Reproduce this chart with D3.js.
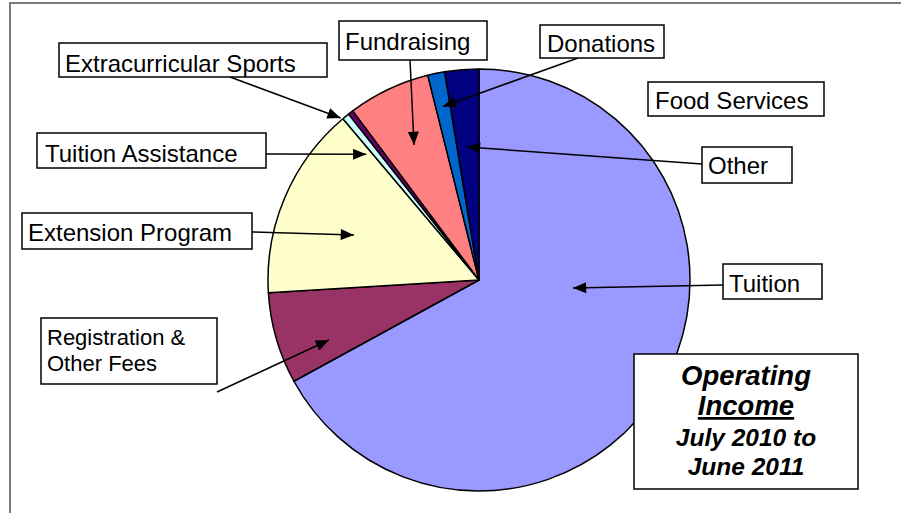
<!DOCTYPE html>
<html>
<head>
<meta charset="utf-8">
<script src="https://cdn.jsdelivr.net/npm/d3@7"></script>
<style>
  body { margin: 0; background: #fff; }
  text { font-family: "Liberation Sans", Arial, sans-serif; }
</style>
</head>
<body>
<div id="chart"></div>
<script>
// categories and their share of operating income (%), clockwise from 12 o'clock
const categories = ["Tuition", "Registration & Other Fees", "Extension Program", "Tuition Assistance",
    "Extracurricular Sports", "Fundraising", "Donations", "Food Services", "Other"];
const values = [67.0, 7.0, 14.8, 0.55, 0.4, 6.3, 1.3, 0, 2.6];
const colors = ["#9999ff", "#993366", "#ffffcc", "#ccffff", "#660066", "#ff8080", "#0066cc", "#ccccff", "#000080"];
const titleLines = ["Operating", "Income", "July 2010 to", "June 2011"];

const width = 901;
const height = 513;
const center = {x: 479, y: 280};
const radius = 211;

// label boxes: box [x, y, w, h], text origin, arrow tail, arrow tip as [angle deg, radius fraction]
const labelLayout = [
    {name: "Tuition", box: [723, 264, 99, 35], text: [729, 291.5], tail: [723, 285], tip: [94.9, 0.447]},
    {name: "Registration & Other Fees", lines: ["Registration &", "Other Fees"], size: 22,
        box: [41, 318, 176, 66], text: [47, 345], lineGap: 26, tail: [217, 392], tip: [248.2, 0.766]},
    {name: "Extension Program", box: [22, 213, 230, 36], text: [28, 240.5], tail: [252, 232], tip: [289.8, 0.63]},
    {name: "Tuition Assistance", box: [37, 133, 229, 35], text: [45, 161.5], tail: [266, 154], tip: [318.1, 0.80]},
    {name: "Extracurricular Sports", box: [59, 43, 268, 34], text: [65, 71.5], tail: [230, 77], tip: [319.5, 1.01]},
    {name: "Fundraising", box: [339, 21, 148, 39], text: [345, 50], tail: [410, 60], tip: [334.3, 0.71]},
    {name: "Donations", box: [540, 25, 124, 33], text: [547, 52.3], tail: [578, 58], tip: [348.25, 0.84]},
    {name: "Food Services", box: [648, 82, 176, 34], text: [655, 109.3]},
    {name: "Other", box: [702, 147, 90, 36], text: [708, 174], tail: [702, 164], tip: [354.8, 0.633]}
];

const data = categories.map((c, i) => ({name: c, value: values[i], color: colors[i]}));

const svg = d3.select("#chart")
    .append("svg")
    .attr("width", width)
    .attr("height", height);

// arrowhead marker
svg.append("defs").append("marker")
    .attr("id", "arrow")
    .attr("viewBox", "0 0 12 10")
    .attr("refX", 12)
    .attr("refY", 5)
    .attr("markerUnits", "userSpaceOnUse")
    .attr("markerWidth", 14)
    .attr("markerHeight", 11)
    .attr("orient", "auto")
    .append("path")
    .attr("d", "M0,0L12,5L0,10Z")
    .attr("fill", "#000");

// chart area frame (top and left edges visible)
svg.append("path")
    .attr("d", `M10,${height}V3H${width}`)
    .attr("fill", "none")
    .attr("stroke", "#7a7a7a")
    .attr("stroke-width", 2);

// pie
const pie = d3.pie().sort(null).value(d => d.value);
const arc = d3.arc().innerRadius(0).outerRadius(radius);
const arcs = pie(data);

const g = svg.append("g")
    .attr("transform", `translate(${center.x},${center.y})`);

g.selectAll(".slice")
    .data(arcs.filter(d => d.value > 0))
    .enter()
    .append("path")
    .attr("class", "slice")
    .attr("d", arc)
    .attr("fill", d => d.data.color)
    .attr("stroke", "#000")
    .attr("stroke-width", 1.5)
    .attr("stroke-linejoin", "round");

// leader lines
const tipPoint = t => {
    const p = d3.pointRadial(t[0] * Math.PI / 180, t[1] * radius);
    return [center.x + p[0], center.y + p[1]];
};

svg.selectAll(".leader")
    .data(labelLayout.filter(d => d.tip))
    .enter()
    .append("line")
    .attr("class", "leader")
    .attr("x1", d => d.tail[0])
    .attr("y1", d => d.tail[1])
    .attr("x2", d => tipPoint(d.tip)[0])
    .attr("y2", d => tipPoint(d.tip)[1])
    .attr("stroke", "#000")
    .attr("stroke-width", 1.5)
    .attr("marker-end", "url(#arrow)");

// label boxes
const labels = svg.selectAll(".label")
    .data(labelLayout)
    .enter()
    .append("g")
    .attr("class", "label");

labels.append("rect")
    .attr("x", d => d.box[0])
    .attr("y", d => d.box[1])
    .attr("width", d => d.box[2])
    .attr("height", d => d.box[3])
    .attr("fill", "#fff")
    .attr("stroke", "#000")
    .attr("stroke-width", 1.5);

labels.each(function(d) {
    const lines = d.lines || [d.name];
    d3.select(this).selectAll("text")
        .data(lines)
        .enter()
        .append("text")
        .attr("x", d.text[0])
        .attr("y", (l, i) => d.text[1] + i * (d.lineGap || 0))
        .attr("font-size", (d.size || 24) + "px")
        .attr("fill", "#000")
        .text(l => l);
});

// title box
svg.append("rect")
    .attr("x", 634)
    .attr("y", 354)
    .attr("width", 224)
    .attr("height", 135)
    .attr("fill", "#fff")
    .attr("stroke", "#000")
    .attr("stroke-width", 1.5);

const titleY = [385, 415, 446, 475];
const titleSize = [27.5, 27.5, 24.5, 24.5];

svg.selectAll(".title")
    .data(titleLines)
    .enter()
    .append("text")
    .attr("class", "title")
    .attr("x", 746)
    .attr("y", (d, i) => titleY[i])
    .attr("text-anchor", "middle")
    .attr("font-size", (d, i) => titleSize[i] + "px")
    .attr("font-weight", "bold")
    .attr("font-style", "italic")
    .style("text-decoration", (d, i) => i === 1 ? "underline" : null)
    .text(d => d);
</script>
</body>
</html>
